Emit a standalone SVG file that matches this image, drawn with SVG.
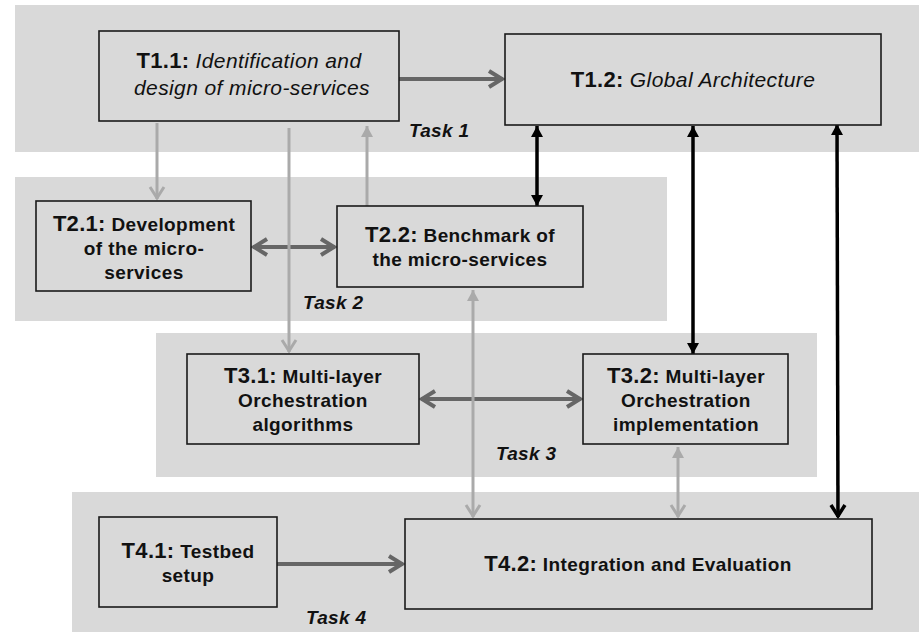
<svg xmlns="http://www.w3.org/2000/svg" width="919" height="632" viewBox="0 0 919 632">
<style>
.band{fill:#d9d9d9}
.box{fill:#d9d9d9;stroke:#1a1a1a;stroke-width:1.6}
text{font-family:"Liberation Sans",Arial,Helvetica,sans-serif;fill:#111;text-anchor:middle}
.t{font-weight:bold;font-size:22px;letter-spacing:0.3px}
.r{font-weight:bold;font-size:19px;letter-spacing:0.4px}
.i{font-style:italic;font-size:21px;letter-spacing:0.4px}
.task{font-weight:bold;font-style:italic;font-size:19px;text-anchor:start;letter-spacing:0.3px}
.dark{stroke:#666;stroke-width:4;fill:none}
.light{stroke:#aaa;stroke-width:3;fill:none}
.black{stroke:#000;stroke-width:3.5;fill:none}
</style>
<defs>
<marker id="chDark" markerUnits="userSpaceOnUse" viewBox="-18 -11 20 22" markerWidth="20" markerHeight="22" refX="0" refY="0" orient="auto-start-reverse"><path d="M-14,-8 L-1,0 L-14,8" fill="none" stroke="#666" stroke-width="4"/></marker>
<marker id="chLight" markerUnits="userSpaceOnUse" viewBox="-18 -11 20 22" markerWidth="20" markerHeight="22" refX="0" refY="0" orient="auto-start-reverse"><path d="M-12,-7 L-1,0 L-12,7" fill="none" stroke="#aaa" stroke-width="3"/></marker>
<marker id="chBlack" markerUnits="userSpaceOnUse" viewBox="-18 -11 20 22" markerWidth="20" markerHeight="22" refX="0" refY="0" orient="auto-start-reverse"><path d="M-12,-7 L-1,0 L-12,7" fill="none" stroke="#000" stroke-width="3.5"/></marker>
<marker id="trLight" markerUnits="userSpaceOnUse" viewBox="-14 -8 16 16" markerWidth="16" markerHeight="16" refX="0" refY="0" orient="auto-start-reverse"><path d="M-11,-6 L0,0 L-11,6 Z" fill="#aaa"/></marker>
<marker id="trBlack" markerUnits="userSpaceOnUse" viewBox="-14 -8 16 16" markerWidth="16" markerHeight="16" refX="0" refY="0" orient="auto-start-reverse"><path d="M-11,-6 L0,0 L-11,6 Z" fill="#000"/></marker>
</defs>

<g id="bands">
<rect class="band" x="15" y="5" width="904" height="147"/>
<rect class="band" x="15" y="177" width="652" height="144"/>
<rect class="band" x="156" y="333" width="661" height="144"/>
<rect class="band" x="72" y="492" width="847" height="140"/>
<text class="task" x="409" y="137">Task 1</text>
<text class="task" x="303" y="309">Task 2</text>
<text class="task" x="496" y="460">Task 3</text>
<text class="task" x="306" y="624">Task 4</text>
</g>

<g id="connectors">
<path class="dark" d="M399,79 L503,79" marker-end="url(#chDark)"/>
<path class="dark" d="M253,247 L335,247" marker-start="url(#chDark)" marker-end="url(#chDark)"/>
<path class="dark" d="M421,399 L581,399" marker-start="url(#chDark)" marker-end="url(#chDark)"/>
<path class="dark" d="M277,564 L403,564" marker-end="url(#chDark)"/>
<path class="light" d="M157,123 L157,199" marker-end="url(#chLight)"/>
<path class="light" d="M289,128 L289,352" marker-end="url(#chLight)"/>
<path class="light" d="M367,206 L367,126" marker-end="url(#trLight)"/>
<path class="light" d="M473,290 L473,517" marker-start="url(#trLight)" marker-end="url(#chLight)"/>
<path class="light" d="M678,447 L678,517" marker-start="url(#trLight)" marker-end="url(#chLight)"/>
<path class="black" d="M537,126 L537,206" marker-start="url(#trBlack)" marker-end="url(#trBlack)"/>
<path class="black" d="M693,126 L693,354" marker-start="url(#trBlack)" marker-end="url(#trBlack)"/>
<path class="black" d="M837,124 L838,517" marker-start="url(#trBlack)" marker-end="url(#chBlack)"/>
</g>

<g id="T1.1">
<rect class="box" x="99" y="31" width="300" height="90"/>
<text x="249" y="68"><tspan class="t">T1.1:</tspan><tspan class="i"> Identification and</tspan></text>
<text x="252" y="95" class="i">design of micro-services</text>
</g>
<g id="T1.2">
<rect class="box" x="505" y="34" width="376" height="91"/>
<text x="693" y="87"><tspan class="t">T1.2:</tspan><tspan class="i"> Global Architecture</tspan></text>
</g>
<g id="T2.1">
<rect class="box" x="36" y="201" width="215" height="90"/>
<text x="144" y="231"><tspan class="t">T2.1:</tspan><tspan class="r"> Development</tspan></text>
<text x="144" y="255" class="r">of the micro-</text>
<text x="144" y="279" class="r">services</text>
</g>
<g id="T2.2">
<rect class="box" x="337" y="206" width="246" height="81"/>
<text x="460" y="242"><tspan class="t">T2.2:</tspan><tspan class="r"> Benchmark of</tspan></text>
<text x="460" y="266" class="r">the micro-services</text>
</g>
<g id="T3.1">
<rect class="box" x="187" y="354" width="232" height="90"/>
<text x="303" y="383"><tspan class="t">T3.1:</tspan><tspan class="r"> Multi-layer</tspan></text>
<text x="303" y="407" class="r">Orchestration</text>
<text x="303" y="431" class="r">algorithms</text>
</g>
<g id="T3.2">
<rect class="box" x="583" y="354" width="205" height="90"/>
<text x="686" y="383"><tspan class="t">T3.2:</tspan><tspan class="r"> Multi-layer</tspan></text>
<text x="686" y="407" class="r">Orchestration</text>
<text x="686" y="431" class="r">implementation</text>
</g>
<g id="T4.1">
<rect class="box" x="99" y="517" width="178" height="90"/>
<text x="188" y="558"><tspan class="t">T4.1:</tspan><tspan class="r"> Testbed</tspan></text>
<text x="188" y="582" class="r">setup</text>
</g>
<g id="T4.2">
<rect class="box" x="405" y="519" width="467" height="90"/>
<text x="638" y="571"><tspan class="t">T4.2:</tspan><tspan class="r"> Integration and Evaluation</tspan></text>
</g>
</svg>
